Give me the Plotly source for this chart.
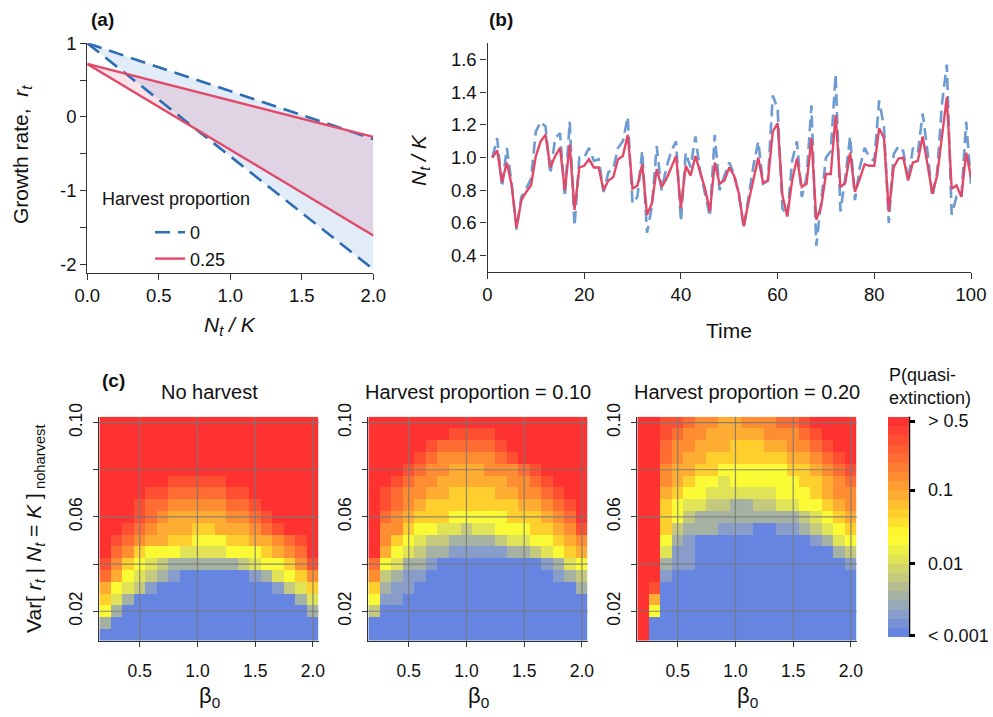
import plotly.graph_objects as go

W, H = 993, 717

# ---------------- panel (a): growth rate vs density ----------------
density = [0.0, 2.0]
growth_no_harvest_high = [1.00, -0.30]
growth_no_harvest_low = [1.00, -2.07]
growth_harvest_high = [0.72, -0.27]
growth_harvest_low = [0.72, -1.61]
legend_labels = ["0", "0.25"]

# ---------------- panel (b): time series ----------------
time = list(range(1, 101))
n_no_harvest = [
    1.00, 1.12, 0.82, 1.06, 0.84, 0.56, 0.76, 0.81, 0.87, 1.16,
    1.22, 1.19, 0.90, 1.12, 1.15, 0.76, 1.22, 0.58, 1.00, 1.00,
    1.06, 0.98, 0.99, 0.79, 0.91, 0.93, 1.06, 1.10, 1.25, 0.72,
    0.76, 1.04, 0.54, 0.70, 1.07, 0.80, 0.94, 1.04, 1.10, 0.61,
    1.03, 0.94, 1.13, 0.91, 0.78, 0.64, 1.14, 0.80, 0.89, 0.97,
    0.90, 0.77, 0.57, 0.76, 0.95, 1.10, 0.84, 0.86, 1.38, 1.30,
    0.69, 0.64, 0.98, 1.10, 0.76, 0.88, 1.32, 0.46, 0.72, 1.00,
    1.04, 1.51, 0.67, 0.88, 1.13, 0.74, 0.94, 1.06, 1.00, 0.98,
    1.35, 1.19, 0.60, 1.02, 1.07, 1.04, 0.86, 1.06, 1.03, 1.27,
    1.04, 0.76, 0.91, 1.33, 1.57, 0.65, 0.76, 0.75, 1.22, 0.84,
]
n_harvest = [
    1.00, 1.045, 0.85, 0.97, 0.83, 0.57, 0.74, 0.79, 0.83, 1.01,
    1.10, 1.14, 0.94, 1.01, 1.06, 0.80, 1.08, 0.68, 0.94, 0.95,
    0.99, 0.94, 0.94, 0.80, 0.86, 0.88, 0.99, 1.01, 1.14, 0.81,
    0.83, 0.96, 0.65, 0.72, 0.93, 0.82, 0.87, 0.94, 1.01, 0.69,
    0.95, 0.89, 1.01, 0.91, 0.81, 0.67, 0.97, 0.84, 0.86, 0.94,
    0.89, 0.78, 0.58, 0.73, 0.87, 1.00, 0.845, 0.86, 1.16, 1.21,
    0.77, 0.64, 0.86, 0.995, 0.82, 0.84, 1.12, 0.62, 0.70, 0.90,
    0.90, 1.26, 0.82, 0.845, 1.03, 0.79, 0.87, 0.96, 0.95, 0.95,
    1.18, 1.12, 0.67, 0.94, 0.995, 1.00, 0.86, 0.97, 0.98, 1.13,
    0.96, 0.78, 0.89, 1.13, 1.37, 0.81, 0.83, 0.76, 1.03, 0.88,
]

# ---------------- panel (c): quasi-extinction probability ----------------
beta0 = [0.2, 0.3, 0.4, 0.5, 0.6, 0.7, 0.8, 0.9, 1.0, 1.1,
         1.2, 1.3, 1.4, 1.5, 1.6, 1.7, 1.8, 1.9, 2.0]
var_r = [0.010, 0.015, 0.020, 0.025, 0.030, 0.035, 0.040, 0.045, 0.050, 0.055,
         0.060, 0.065, 0.070, 0.075, 0.080, 0.085, 0.090, 0.095, 0.100]
heat_titles = ["No harvest", "Harvest proportion = 0.10", "Harvest proportion = 0.20"]

# probability class read per cell (0 = < 0.001 ... B = > 0.5), rows from Var = 0.10 down to 0.01
p_no_harvest = [
    "BBBBBBBBBBBBBBBBBBB",
    "BBBBBBBBBBBBBBBBBBB",
    "BBBBBBBBBBBBBBBBBBB",
    "BBBBBBBBBBBBBBBBBBB",
    "BBBBBBBBBBBBBBBBBBB",
    "BBBBBBAAAAABBBBBBBB",
    "BBBBAA99999AABBBBBB",
    "BBBA998888899ABBBBB",
    "BBBA9877777889ABBBB",
    "BBA987776677789ABBB",
    "BA987766555667789AB",
    "B98655544445556789B",
    "A86543222222345568A",
    "9754321000000124568",
    "7543100000000001346",
    "6420000000000000024",
    "5200000000000000002",
    "2000000000000000000",
    "0000000000000000000",
]
p_harvest_010 = [
    "BBBBBBBBBBBBBBBBBBB",
    "BBBBBBBAAAABBBBBBBB",
    "BBBBBA99999ABBBBBBB",
    "BBBBA9888889ABBBBBB",
    "BBBA9887778889ABBBB",
    "BBA988777777889ABBB",
    "BA98877666677889ABB",
    "BA987666666667789AB",
    "B98766655555666789B",
    "B88655443445556678A",
    "B865433222234455678",
    "B754322111112234567",
    "9542210000000001245",
    "8321100000000000123",
    "6211000000000000002",
    "5110000000000000000",
    "3000000000000000000",
    "0000000000000000000",
    "0000000000000000000",
]
p_harvest_020 = [
    "BBAA9887788899ABBBB",
    "BBA988777778889ABBB",
    "BB98877766677889ABB",
    "BB987766666667789AB",
    "BB8776655555566789A",
    "BB87655455555566789",
    "BB76554444445556788",
    "BB65443322334455678",
    "BB65322222222234567",
    "BB63222111001123456",
    "BB52100000000001245",
    "BB41100000000000023",
    "BB21100000000000001",
    "BB10000000000000000",
    "BA00000000000000000",
    "B700000000000000000",
    "B500000000000000000",
    "B000000000000000000",
    "B000000000000000000",
]
cbar_tickvals = [-2.985, -2.0, -1.0, -0.06]
cbar_ticktext = ["< 0.001", "0.01", "0.1", "> 0.5"]

# ---------------- colour scale ----------------
LEVELS = "0123456789AB"
level_colors = [(101, 133, 225), (138, 158, 200), (168, 180, 160), (200, 204, 120),
                (230, 232, 80), (255, 255, 45), (255, 215, 45), (255, 178, 50),
                (255, 145, 50), (255, 112, 50), (255, 80, 50), (255, 50, 50)]
NB = 24


def interp_color(pos):
    i = min(int(pos), len(level_colors) - 2)
    f = pos - i
    c0, c1 = level_colors[i], level_colors[i + 1]
    return "rgb(%d,%d,%d)" % tuple(round(a + (b - a) * f) for a, b in zip(c0, c1))


colorscale = []
for k in range(NB):
    c = interp_color(k * 11 / (NB - 1))
    colorscale.append([k / NB, c])
    colorscale.append([(k + 1) / NB, c])


def to_log10p(rows):
    z = []
    for row in reversed(rows):
        assert len(row) == len(beta0), row
        z.append([-3 + 3 * (round(LEVELS.index(ch) * 23 / 11) + 0.5) / NB for ch in row])
    return z


# ---------------- figure ----------------
BLUE_A = "#2E6DB4"
RED = "#E04A68"
BLUE_B = "#6E9BD2"
FONT = "Liberation Sans, Arial, sans-serif"
NBSP = "\u00a0"

fig = go.Figure()

# panel (a) fills
fig.add_trace(go.Scatter(x=density + density[::-1],
                         y=growth_no_harvest_high + growth_no_harvest_low[::-1],
                         fill="toself", fillcolor="rgba(170,200,235,0.35)",
                         line=dict(width=0), mode="lines", showlegend=False,
                         hoverinfo="skip", xaxis="x", yaxis="y"))
fig.add_trace(go.Scatter(x=density + density[::-1],
                         y=growth_harvest_high + growth_harvest_low[::-1],
                         fill="toself", fillcolor="rgba(220,120,150,0.2)",
                         line=dict(width=0), mode="lines", showlegend=False,
                         hoverinfo="skip", xaxis="x", yaxis="y"))
fig.add_trace(go.Scatter(x=density, y=growth_no_harvest_high, mode="lines",
                         line=dict(color=BLUE_A, width=2.6, dash="15px,8px"),
                         name=legend_labels[0], legendgroup="h0", showlegend=True,
                         xaxis="x", yaxis="y"))
fig.add_trace(go.Scatter(x=density, y=growth_no_harvest_low, mode="lines",
                         line=dict(color=BLUE_A, width=2.6, dash="15px,8px"),
                         name=legend_labels[0], legendgroup="h0", showlegend=False,
                         xaxis="x", yaxis="y"))
fig.add_trace(go.Scatter(x=density, y=growth_harvest_high, mode="lines",
                         line=dict(color=RED, width=2.4),
                         name=legend_labels[1], legendgroup="h1", showlegend=True,
                         xaxis="x", yaxis="y"))
fig.add_trace(go.Scatter(x=density, y=growth_harvest_low, mode="lines",
                         line=dict(color=RED, width=2.4),
                         name=legend_labels[1], legendgroup="h1", showlegend=False,
                         xaxis="x", yaxis="y"))

# panel (b)
fig.add_trace(go.Scatter(x=time, y=n_no_harvest, mode="lines",
                         line=dict(color=BLUE_B, width=2.6, dash="12px,6px"),
                         showlegend=False, xaxis="x2", yaxis="y2"))
fig.add_trace(go.Scatter(x=time, y=n_harvest, mode="lines",
                         line=dict(color=RED, width=2.4),
                         showlegend=False, xaxis="x2", yaxis="y2"))

# panel (c) heatmaps
for i, rows in enumerate([p_no_harvest, p_harvest_010, p_harvest_020]):
    n = i + 3
    hm = dict(x=beta0, y=var_r, z=to_log10p(rows), colorscale=colorscale,
              zmin=-3, zmax=0, xaxis="x%d" % n, yaxis="y%d" % n,
              showscale=(i == 2), hoverinfo="skip")
    if i == 2:
        hm["colorbar"] = dict(x=888 / W, xanchor="left", xpad=0, ypad=0,
                              y=1 - 636.7 / H, yanchor="bottom",
                              len=220, lenmode="pixels", thickness=21,
                              thicknessmode="pixels", outlinewidth=0,
                              tickvals=cbar_tickvals,
                              ticktext=[NBSP * 2 + t for t in cbar_ticktext],
                              ticks="outside", ticklen=6, tickwidth=3,
                              tickcolor="black",
                              tickfont=dict(size=18, color="#111", family=FONT))
    fig.add_trace(go.Heatmap(**hm))

axis_common = dict(showgrid=False, zeroline=False, showline=True, linecolor="#333",
                   linewidth=1.3, ticks="outside", ticklen=6, tickcolor="#333",
                   tickwidth=1.3, automargin=False,
                   tickfont=dict(size=18.5, color="#111", family=FONT))

layout = dict(
    width=W, height=H, margin=dict(l=0, r=0, t=0, b=0), autosize=False,
    paper_bgcolor="white", plot_bgcolor="white",
    font=dict(family=FONT, color="#111"),
    showlegend=True,
    legend=dict(x=150 / W, y=1 - 214 / H, xanchor="left", yanchor="top",
                bgcolor="rgba(0,0,0,0)", font=dict(size=18, family=FONT),
                tracegroupgap=0),
    xaxis=dict(axis_common, domain=[87.3 / W, 373.3 / W], range=[0, 2],
               tickvals=[0, 0.5, 1, 1.5, 2], ticktext=["0.0", "0.5", "1.0", "1.5", "2.0"],
               anchor="y"),
    yaxis=dict(axis_common, domain=[1 - 273 / H, 1 - 43.3 / H], range=[-2.12, 1.0],
               tickvals=[1, 0, -1, -2], ticktext=["1", "0", "-1", "-2"], anchor="x",
               minor=dict(tickvals=[0.5, -0.5, -1.5], ticks="outside", ticklen=6,
                          tickcolor="#333", tickwidth=1.3, showgrid=False)),
    xaxis2=dict(axis_common, domain=[487.5 / W, 971 / W], range=[0, 100],
                tickvals=[0, 20, 40, 60, 80, 100], anchor="y2"),
    yaxis2=dict(axis_common, domain=[1 - 272 / H, 1 - 43.3 / H], range=[0.3, 1.7],
                tickvals=[0.4, 0.6, 0.8, 1.0, 1.2, 1.4, 1.6],
                ticktext=["0.4", "0.6", "0.8", "1.0", "1.2", "1.4", "1.6"], anchor="x2"),
)

heat_x_domains = [(99.3, 318.7), (368.3, 587.7), (637.3, 856.7)]
heat_y_dom = [1 - 640.7 / H, 1 - 416.7 / H]
xticks_c = [0.5, 1.0, 1.5, 2.0]
yticks_c = [0.02, 0.04, 0.06, 0.08, 0.10]
shapes = []
for i, (x0, x1) in enumerate(heat_x_domains):
    n = i + 3
    layout["xaxis%d" % n] = dict(axis_common, domain=[x0 / W, x1 / W], range=[0.15, 2.05],
                                  tickvals=xticks_c, ticktext=["0.5", "1.0", "1.5", "2.0"],
                                  ticklen=5, ticklabelstandoff=9, anchor="y%d" % n,
                                  tickfont=dict(size=17.5, color="#111", family=FONT))
    layout["yaxis%d" % n] = dict(axis_common, domain=heat_y_dom, range=[0.0075, 0.1025],
                                  tickvals=[0.02, 0.06, 0.10], ticktext=["0.02", "0.06", "0.10"],
                                  tickangle=-90, ticklen=5, ticklabelstandoff=4,
                                  anchor="x%d" % n,
                                  minor=dict(tickvals=[0.04, 0.08], ticks="outside", ticklen=5,
                                             tickcolor="#333", tickwidth=1.3, showgrid=False),
                                  tickfont=dict(size=17.5, color="#111", family=FONT))
    for xv in xticks_c:
        shapes.append(dict(type="line", xref="x%d" % n, yref="y%d domain" % n,
                           x0=xv, x1=xv, y0=0, y1=1, layer="above",
                           line=dict(color="rgba(120,120,120,0.85)", width=1.2)))
    for yv in yticks_c:
        shapes.append(dict(type="line", xref="x%d domain" % n, yref="y%d" % n,
                           x0=0, x1=1, y0=yv, y1=yv, layer="above",
                           line=dict(color="rgba(120,120,120,0.85)", width=1.2)))

# colour bar axis line
shapes.append(dict(type="line", xref="paper", yref="paper", x0=909.5 / W, x1=909.5 / W,
                   y0=1 - 636.7 / H, y1=1 - 416.7 / H, line=dict(color="black", width=1.5)))
layout["shapes"] = shapes


def ann(text, x, y, size=20, angle=0, xanchor="center", yanchor="middle", align="center"):
    return dict(text=text, x=x / W, y=1 - y / H, xref="paper", yref="paper",
                showarrow=False, textangle=angle, xanchor=xanchor, yanchor=yanchor,
                align=align, font=dict(size=size, family=FONT, color="#111"))


annotations = [
    ann("<b>(a)</b>", 102, 19, 19),
    ann("<b>(b)</b>", 501, 19, 19),
    ann("<b>(c)</b>", 113, 380, 19),
    ann("Growth rate,  <i>r</i><sub><i>t</i></sub>", 22, 155, 21, angle=-90),
    ann("<i>N</i><sub><i>t</i></sub><i> / K</i>", 230, 326, 21),
    ann("<i>N</i><sub><i>t</i></sub><i> / K</i>", 420, 160, 21, angle=-90),
    ann("Time", 729, 330, 21),
    ann("Harvest proportion", 100, 199, 18, xanchor="left"),
    ann("Var[ <i>r</i><sub><i>t</i></sub> | <i>N</i><sub><i>t</i></sub> = <i>K</i> ]<sub> noharvest</sub>",
        35, 529, 21, angle=-90),
    ann("P(quasi-<br>extinction)", 887, 363, 18, xanchor="left", yanchor="top", align="left"),
]
for i, (x0, x1) in enumerate(heat_x_domains):
    annotations.append(ann(heat_titles[i], (x0 + x1) / 2, 392, 20))
    annotations.append(ann("β<sub>0</sub>", (x0 + x1) / 2, 697, 22))
layout["annotations"] = annotations

fig.update_layout(**layout)
fig.write_html("out.html", config={"displayModeBar": False},
               post_script="document.body.style.margin='0';document.body.style.padding='0';")
